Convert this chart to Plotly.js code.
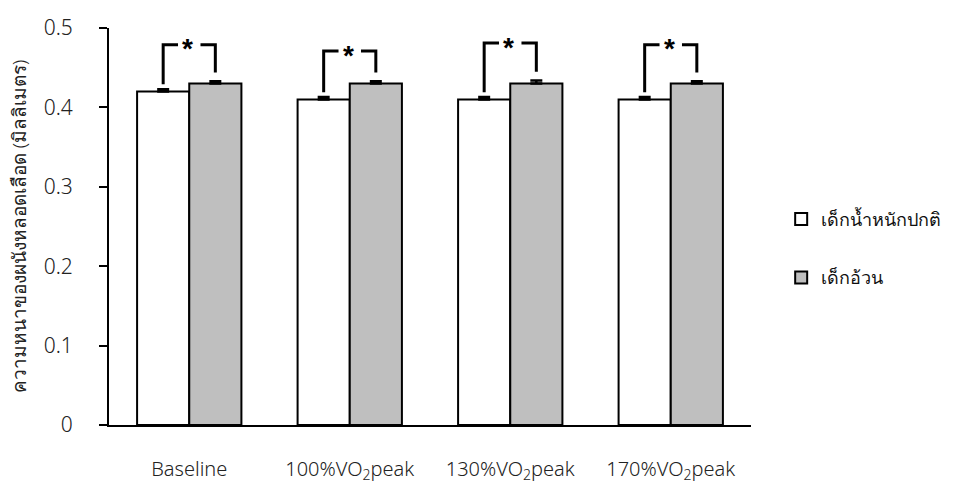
<!DOCTYPE html>
<html>
<head>
<meta charset="utf-8">
<script src="https://cdn.plot.ly/plotly-3.0.1.min.js"></script>
<style>html,body{margin:0;padding:0;background:#fff;}#chart{width:960px;height:486px;}</style>
</head>
<body>
<div id="chart"></div>
<script>
var categories = ["Baseline", "100%VO<sub>2</sub>peak", "130%VO<sub>2</sub>peak", "170%VO<sub>2</sub>peak"];
var normalName = "เด็กน้ำหนักปกติ";
var obeseName = "เด็กอ้วน";
var normalValues = [0.42, 0.41, 0.41, 0.41];
var normalErr = [0.003, 0.003, 0.003, 0.003];
var obeseValues = [0.43, 0.43, 0.43, 0.43];
var obeseErr = [0.003, 0.003, 0.004, 0.003];
var sigTop = [0.479, 0.471, 0.481, 0.479];
var sigLabel = ["*", "*", "*", "*"];
var yTicks = [0, 0.1, 0.2, 0.3, 0.4, 0.5];
var yTickText = ["0", "0.1", "0.2", "0.3", "0.4", "0.5"];

var FONT = "Noto Sans";
var idx = categories.map(function(_, i){ return i; });
var half = 0.1625;

var traces = [
  {
    type: "bar", name: normalName, x: idx, y: normalValues,
    legendgroup: "a",
    marker: {color: "#FFFFFF", line: {color: "#000", width: 2}},
    error_y: {type: "data", symmetric: false, array: normalErr, arrayminus: normalErr.map(function(){return 0;}), color: "#000", thickness: 2.5, width: 6}
  },
  {
    type: "bar", name: obeseName, x: idx, y: obeseValues,
    legendgroup: "b",
    marker: {color: "#BFBFBF", line: {color: "#000", width: 2}},
    error_y: {type: "data", symmetric: false, array: obeseErr, arrayminus: obeseErr.map(function(){return 0;}), color: "#000", thickness: 2.5, width: 6}
  }
];

var shapes = [];
var annotations = [];
idx.forEach(function(i){
  var xl = i - half, xr = i + half;
  var yl = normalValues[i] + normalErr[i] + 0.006;
  var yr = obeseValues[i] + obeseErr[i] + 0.011;
  var yt = sigTop[i];
  var ln = {color: "#000", width: 3};
  shapes.push({type: "path", xref: "x", yref: "y", path: "M" + xl + "," + yl + " L" + xl + "," + yt + " L" + (i - 0.07) + "," + yt, line: ln});
  shapes.push({type: "path", xref: "x", yref: "y", path: "M" + (i + 0.07) + "," + yt + " L" + xr + "," + yt + " L" + xr + "," + yr, line: ln});
  annotations.push({x: i - 0.01, y: yt, xref: "x", yref: "y", text: "<b>" + sigLabel[i] + "</b>", showarrow: false, font: {family: "Liberation Sans", size: 28, color: "#000"}, yanchor: "middle", yshift: -4});
});

var layout = {
  width: 960, height: 486,
  margin: {l: 109, r: 209, t: 28, b: 61, autoexpand: false},
  paper_bgcolor: "#fff", plot_bgcolor: "#fff",
  font: {family: FONT, color: "#222", size: 20, weight: 300},
  barmode: "group", bargap: 0.35, bargroupgap: 0,
  showlegend: true,
  legend: {x: 1.047, y: 0.445, xanchor: "left", yanchor: "middle", font: {family: FONT, size: 18, color: "#111", weight: 300}, tracegroupgap: 32, traceorder: "grouped", itemwidth: 30, bgcolor: "rgba(0,0,0,0)"},
  xaxis: {
    range: [-0.5, 3.5], tickmode: "array", tickvals: idx, ticktext: categories,
    showline: true, linecolor: "#000", linewidth: 2, ticks: "", showgrid: false, zeroline: false,
    ticklabelstandoff: 25, tickfont: {family: FONT, size: 20, color: "#222", weight: 300}
  },
  yaxis: {
    range: [0, 0.5], tickmode: "array", tickvals: yTicks, ticktext: yTickText,
    showline: true, linecolor: "#000", linewidth: 2, ticks: "outside", ticklen: 8, tickwidth: 2, tickcolor: "#000",
    showgrid: false, zeroline: false, ticklabelstandoff: 22,
    tickfont: {family: FONT, size: 21, color: "#222", weight: 300},
    title: {text: "ความหนาของผนังหลอดเลือด (มิลลิเมตร)", font: {family: FONT, size: 19, color: "#222", weight: 300}, standoff: 12}
  },
  shapes: shapes,
  annotations: annotations
};

Plotly.newPlot("chart", traces, layout, {displayModeBar: false, staticPlot: true});
</script>
</body>
</html>
